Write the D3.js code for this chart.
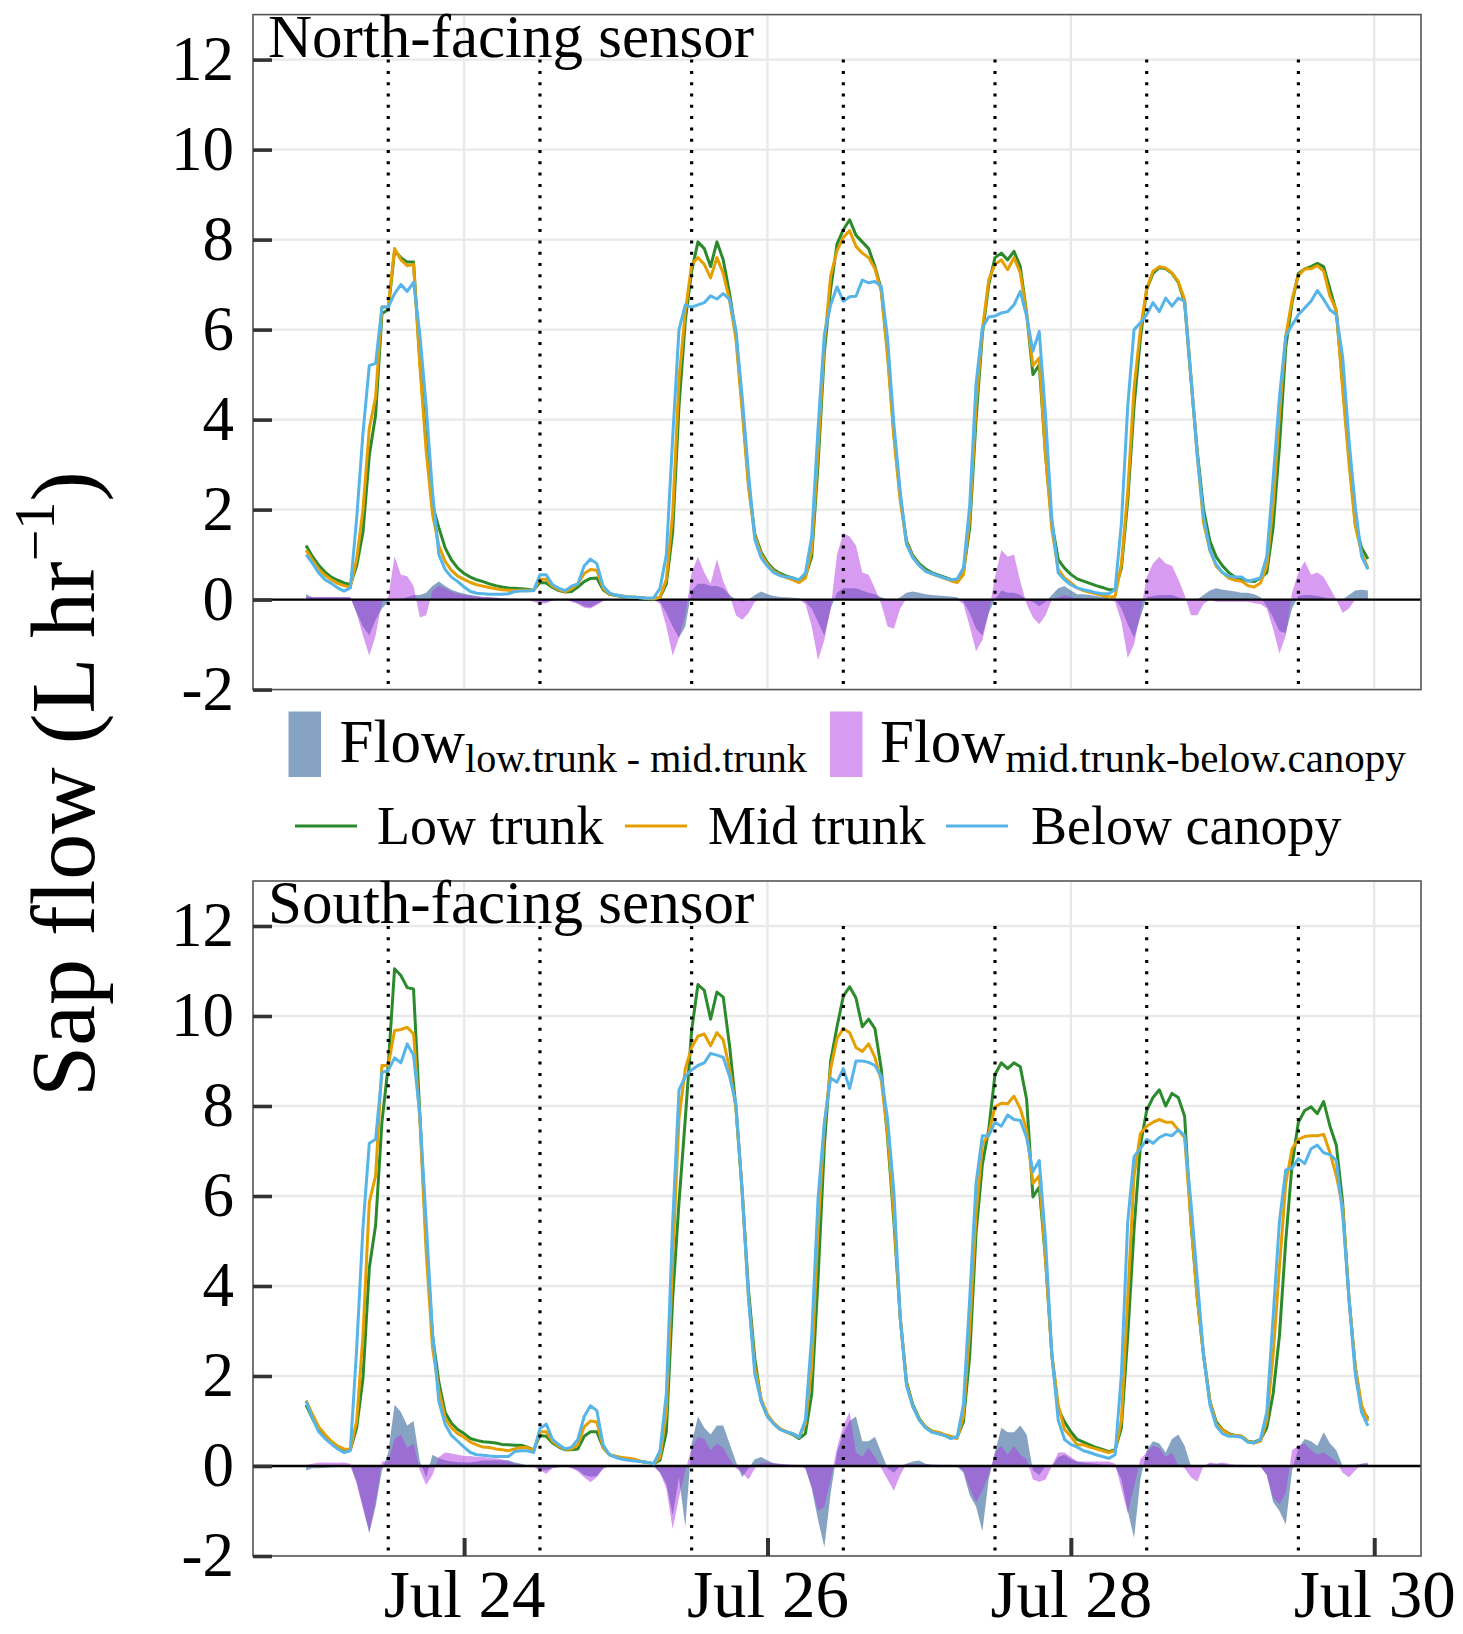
<!DOCTYPE html>
<html><head><meta charset="utf-8">
<script src="https://cdn.jsdelivr.net/npm/d3@7"></script>
<style>
body{margin:0;background:#fff}
svg{display:block}
text{font-family:"Liberation Serif","Times New Roman",Times,serif;fill:#000}
</style>
</head><body>
<svg id="c" width="1463" height="1634"></svg>
<script>
// ---- data (hourly, starting Jul 22 23:00) ----
const startTime = "2019-07-22T23:00:00Z";
const yTicks = [-2, 0, 2, 4, 6, 8, 10, 12];
const yDomain = [-2, 13];
const xTickDates = ["2019-07-24T00:00:00Z","2019-07-26T00:00:00Z","2019-07-28T00:00:00Z","2019-07-30T00:00:00Z"];
const noonLines = ["2019-07-23T12:00:00Z","2019-07-24T12:00:00Z","2019-07-25T12:00:00Z","2019-07-26T12:00:00Z","2019-07-27T12:00:00Z","2019-07-28T12:00:00Z","2019-07-29T12:00:00Z"];
const seriesNames = ["Low trunk","Mid trunk","Below canopy"];
const diffNames = ["low.trunk - mid.trunk","mid.trunk-below.canopy"];
const panelTitles = ["North-facing sensor","South-facing sensor"];

const northLow = [1.2,0.96,0.76,0.61,0.5,0.43,0.37,0.33,0.75,1.5,
3.2,4.1,6.35,6.45,7.75,7.6,7.5,7.5,5.3,3.5,
2.1,1.6,1.15,0.88,0.7,0.58,0.5,0.44,0.4,0.35,
0.31,0.28,0.26,0.25,0.24,0.23,0.21,0.38,0.37,0.27,
0.2,0.17,0.18,0.28,0.4,0.47,0.48,0.22,0.12,0.09,
0.07,0.06,0.05,0.04,0.02,0.01,0.05,0.35,1.5,4.3,
6.2,7.3,7.95,7.8,7.4,7.95,7.55,6.8,5.9,4.3,
2.6,1.45,1.05,0.82,0.67,0.58,0.52,0.48,0.42,0.52,
0.95,3.0,5.5,6.9,7.9,8.22,8.44,8.1,7.95,7.8,
7.4,6.9,5.5,3.7,2.3,1.3,0.98,0.8,0.68,0.6,
0.55,0.5,0.45,0.4,0.6,1.6,4.0,5.9,7.0,7.6,
7.7,7.55,7.74,7.4,6.37,5.0,5.22,3.2,1.7,0.89,
0.7,0.56,0.46,0.41,0.36,0.31,0.27,0.22,0.22,0.7,
2.2,4.3,5.8,6.9,7.25,7.38,7.35,7.25,7.05,6.6,
4.9,3.3,2.0,1.3,0.95,0.75,0.6,0.5,0.45,0.42,
0.4,0.48,0.6,1.6,3.4,5.6,6.6,7.25,7.35,7.4,
7.47,7.4,6.9,6.4,4.8,3.2,1.7,1.15,0.9];

const northMid = [1.1,0.88,0.68,0.54,0.44,0.36,0.31,0.28,0.9,2.0,
3.8,4.5,6.5,6.5,7.8,7.55,7.42,7.45,5.2,3.3,
1.9,1.2,0.85,0.65,0.52,0.45,0.38,0.33,0.3,0.27,
0.24,0.22,0.21,0.2,0.21,0.21,0.2,0.45,0.45,0.3,
0.22,0.18,0.24,0.35,0.58,0.67,0.65,0.25,0.13,0.1,
0.08,0.06,0.05,0.04,0.03,0.02,0.05,0.45,1.9,4.9,
6.4,7.45,7.6,7.45,7.15,7.6,7.25,6.65,5.8,4.2,
2.5,1.4,1.0,0.78,0.63,0.55,0.49,0.44,0.38,0.48,
1.1,3.3,5.7,7.2,7.75,8.05,8.2,7.85,7.7,7.6,
7.35,6.85,5.4,3.6,2.2,1.25,0.95,0.76,0.64,0.57,
0.52,0.47,0.42,0.38,0.55,1.8,4.3,6.0,7.1,7.45,
7.55,7.33,7.6,7.26,6.35,5.2,5.37,3.2,1.55,0.67,
0.48,0.37,0.26,0.2,0.16,0.13,0.09,0.06,0.07,0.8,
2.4,4.7,6.0,6.9,7.3,7.4,7.37,7.26,7.07,6.67,
4.96,3.2,1.7,1.1,0.74,0.6,0.48,0.43,0.41,0.31,
0.28,0.37,0.74,2.1,4.1,5.85,6.67,7.2,7.35,7.35,
7.42,7.3,6.74,6.44,4.67,3.04,1.63,1.04,0.7];

const northBelow = [1.0,0.81,0.59,0.44,0.36,0.26,0.19,0.26,1.8,3.7,
5.2,5.25,6.5,6.5,6.8,7.0,6.85,7.05,5.9,4.3,
2.4,1.0,0.67,0.5,0.4,0.28,0.18,0.14,0.13,0.12,
0.12,0.12,0.13,0.18,0.19,0.19,0.2,0.55,0.55,0.33,
0.25,0.2,0.3,0.35,0.75,0.9,0.8,0.3,0.15,0.1,
0.08,0.06,0.05,0.04,0.03,0.04,0.25,1.0,3.6,6.0,
6.55,6.5,6.55,6.6,6.75,6.68,6.8,6.67,6.0,4.5,
2.8,1.33,0.93,0.74,0.6,0.53,0.5,0.48,0.44,0.59,
1.4,3.8,5.9,6.55,6.95,6.63,6.73,6.74,7.1,7.04,
7.07,6.96,5.8,3.9,2.4,1.22,0.93,0.76,0.63,0.58,
0.53,0.48,0.44,0.46,0.7,2.1,4.8,6.04,6.28,6.3,
6.37,6.4,6.55,6.85,6.3,5.52,5.96,4.07,1.78,0.59,
0.44,0.33,0.26,0.22,0.19,0.15,0.13,0.13,0.22,1.7,
4.3,6.0,6.15,6.33,6.6,6.4,6.7,6.52,6.7,6.63,
4.96,3.2,1.85,1.1,0.78,0.6,0.52,0.5,0.5,0.41,
0.44,0.48,0.96,2.67,4.5,5.85,6.1,6.33,6.48,6.63,
6.87,6.67,6.44,6.33,5.4,3.55,2.07,0.96,0.67];

const northLowMid = [0.12,0.05,0.05,0.05,0.05,0.05,0.05,0.05,-0.3,-0.6,
-0.8,-0.45,-0.2,-0.05,0.0,0.02,0.05,0.1,0.1,0.15,
0.3,0.4,0.3,0.22,0.17,0.13,0.1,0.08,0.06,0.05,
0.04,0.03,0.02,0.01,0.0,0.0,0.0,-0.05,-0.05,-0.02,
0.0,0.0,-0.03,-0.08,-0.15,-0.17,-0.1,-0.02,0.0,0.0,
0.0,0.0,0.0,0.0,0.0,0.0,-0.05,-0.3,-0.6,-0.85,
-0.6,0.2,0.35,0.35,0.3,0.3,0.25,0.1,0.0,-0.05,
0.0,0.1,0.18,0.12,0.08,0.06,0.05,0.04,0.03,-0.05,
-0.2,-0.5,-0.8,-0.2,0.15,0.25,0.25,0.25,0.2,0.15,
0.12,0.05,0.0,-0.03,0.05,0.15,0.18,0.15,0.12,0.1,
0.09,0.08,0.07,0.05,-0.05,-0.3,-0.65,-0.8,-0.3,0.0,
0.2,0.15,0.15,0.1,0.0,-0.05,-0.15,-0.05,0.1,0.25,
0.3,0.2,0.12,0.12,0.1,0.08,0.06,0.05,0.02,-0.2,
-0.55,-0.85,-0.4,0.05,0.08,0.1,0.1,0.1,0.05,0.0,
0.0,0.0,0.1,0.2,0.25,0.22,0.2,0.18,0.15,0.15,
0.12,0.05,-0.15,-0.4,-0.7,-0.75,-0.2,0.08,0.1,0.1,
0.08,0.05,0.02,0.0,0.0,0.1,0.2,0.22,0.2];

const northMidBelow = [0.06,0.06,0.06,0.06,0.06,0.06,0.06,0.05,-0.3,-0.8,
-1.25,-0.8,-0.05,0.05,0.96,0.55,0.52,0.3,-0.4,-0.35,
0.2,0.3,0.25,0.18,0.13,0.1,0.08,0.07,0.06,0.05,
0.04,0.03,0.02,0.01,0.0,0.0,-0.05,-0.1,-0.08,-0.02,
0.0,0.0,-0.05,-0.1,-0.18,-0.2,-0.12,-0.03,0.0,0.0,
0.0,0.0,0.0,0.0,0.0,0.0,-0.1,-0.6,-1.25,-0.85,
-0.35,0.6,0.95,0.6,0.35,0.9,0.4,0.1,-0.35,-0.45,
-0.3,-0.05,0.02,0.02,0.02,0.02,0.01,0.01,0.0,-0.1,
-0.6,-1.35,-0.9,-0.2,1.0,1.48,1.4,1.2,0.6,0.55,
0.25,-0.1,-0.6,-0.65,-0.2,0.03,0.02,0.02,0.02,0.02,
0.01,0.01,0.0,0.0,-0.1,-0.6,-1.15,-0.9,-0.3,0.5,
1.1,0.95,1.0,0.4,-0.1,-0.4,-0.55,-0.35,0.0,0.05,
0.1,0.05,0.03,0.02,0.02,0.01,0.01,0.0,-0.05,-0.5,
-1.3,-1.0,-0.3,0.5,0.8,0.95,0.8,0.75,0.45,0.1,
-0.35,-0.35,-0.1,0.0,-0.05,-0.05,-0.05,-0.05,-0.05,-0.05,
-0.08,-0.1,-0.2,-0.65,-1.2,-0.8,0.15,0.6,0.85,0.55,
0.6,0.5,0.25,0.0,-0.3,-0.2,0.0,0.02,0.03];

const southLow = [1.36,1.06,0.81,0.64,0.51,0.42,0.36,0.36,0.85,1.95,
4.4,5.35,7.64,8.9,11.05,10.9,10.63,10.6,7.8,5.0,
2.9,1.87,1.19,0.95,0.81,0.72,0.61,0.57,0.54,0.53,
0.51,0.48,0.47,0.46,0.46,0.42,0.36,0.68,0.66,0.51,
0.42,0.36,0.36,0.38,0.66,0.76,0.76,0.41,0.25,0.21,
0.17,0.15,0.13,0.1,0.08,0.05,0.13,0.76,3.73,5.86,
7.72,9.68,10.7,10.57,9.93,10.53,10.42,9.34,7.98,6.1,
3.9,2.38,1.44,1.1,0.95,0.82,0.76,0.7,0.61,0.72,
1.6,4.16,7.13,9.0,9.76,10.44,10.65,10.4,9.76,9.93,
9.72,8.83,7.3,5.43,3.3,1.87,1.36,1.06,0.87,0.78,
0.72,0.68,0.64,0.64,0.98,2.46,5.18,6.7,7.47,8.7,
8.96,8.83,8.96,8.87,8.15,5.98,6.2,4.58,2.46,1.27,
0.98,0.76,0.59,0.53,0.47,0.41,0.37,0.32,0.36,0.85,
2.89,5.26,7.13,7.9,8.19,8.36,8.0,8.28,8.19,7.77,
5.43,3.73,2.46,1.44,0.98,0.81,0.72,0.68,0.66,0.55,
0.53,0.59,0.85,1.6,2.89,5.0,6.7,7.64,7.9,7.98,
7.83,8.1,7.55,7.13,5.86,3.73,2.2,1.27,1.06];

const southMid = [1.46,1.15,0.87,0.7,0.55,0.44,0.38,0.37,1.0,2.9,
5.86,6.45,8.9,8.9,9.68,9.7,9.75,9.6,7.7,4.75,
2.63,1.7,1.06,0.85,0.72,0.64,0.53,0.47,0.42,0.41,
0.38,0.36,0.34,0.38,0.41,0.41,0.34,0.76,0.76,0.55,
0.44,0.37,0.38,0.47,0.87,1.0,0.98,0.41,0.25,0.21,
0.19,0.17,0.15,0.1,0.08,0.05,0.19,1.19,4.58,7.72,
8.83,9.3,9.55,9.6,9.34,9.63,9.47,8.83,7.98,6.1,
3.73,2.2,1.49,1.15,0.95,0.83,0.76,0.72,0.64,0.93,
2.2,5.26,7.55,8.83,9.5,9.72,9.63,9.3,9.21,9.38,
9.08,8.57,7.39,5.6,3.3,1.83,1.32,1.04,0.87,0.78,
0.75,0.7,0.66,0.61,1.1,3.06,5.6,7.13,7.39,7.98,
8.06,8.05,8.22,7.94,7.47,6.28,6.45,4.58,2.46,1.36,
0.81,0.66,0.47,0.47,0.42,0.38,0.34,0.3,0.34,1.02,
3.73,6.45,7.39,7.55,7.64,7.7,7.64,7.64,7.47,7.3,
5.43,3.73,2.46,1.44,0.93,0.81,0.7,0.68,0.66,0.55,
0.51,0.55,1.02,2.46,4.41,6.28,7.05,7.26,7.32,7.34,
7.34,7.37,6.96,6.45,5.77,3.73,2.2,1.36,1.0];

const southBelow = [1.44,1.06,0.76,0.61,0.49,0.38,0.3,0.34,2.6,5.3,
7.17,7.26,8.74,8.79,9.07,8.96,9.38,9.13,7.8,5.43,
2.97,1.44,0.93,0.68,0.55,0.42,0.3,0.25,0.24,0.22,
0.21,0.21,0.21,0.32,0.34,0.34,0.3,0.83,0.93,0.59,
0.47,0.38,0.42,0.59,1.1,1.34,1.23,0.47,0.25,0.19,
0.15,0.13,0.11,0.1,0.08,0.05,0.34,1.6,5.4,8.36,
8.66,8.8,8.9,8.96,9.17,9.13,9.08,8.66,8.06,6.1,
3.73,2.04,1.44,1.1,0.93,0.81,0.76,0.72,0.64,1.02,
2.9,5.94,7.64,8.62,8.53,8.83,8.39,9.0,9.0,8.97,
8.9,8.66,7.72,6.1,3.3,1.78,1.32,1.02,0.85,0.75,
0.72,0.68,0.61,0.64,1.36,3.73,6.28,7.34,7.34,7.64,
7.55,7.8,7.7,7.68,7.3,6.54,6.79,5.0,2.46,1.02,
0.59,0.48,0.42,0.34,0.3,0.25,0.21,0.17,0.25,2.04,
5.43,6.88,7.05,7.26,7.17,7.3,7.37,7.34,7.47,7.34,
5.86,4.16,2.46,1.36,0.89,0.72,0.66,0.66,0.64,0.53,
0.51,0.59,1.19,3.31,5.43,6.58,6.62,6.83,6.72,7.05,
7.13,6.96,6.92,6.79,5.6,3.73,2.04,1.19,0.89];

const southLowMid = [-0.1,-0.05,-0.05,-0.04,-0.03,-0.02,0.0,0.0,-0.35,-0.9,
-1.5,-0.9,-0.1,0.3,1.36,1.2,0.9,1.0,0.1,-0.25,
0.25,0.17,0.13,0.1,0.09,0.08,0.08,0.1,0.12,0.12,
0.13,0.12,0.13,0.08,0.05,0.01,0.02,-0.08,-0.1,-0.04,
-0.03,0.0,-0.04,-0.09,-0.2,-0.24,-0.22,-0.05,0.0,0.0,
0.0,0.0,0.0,0.0,0.0,0.0,-0.15,-0.4,-1.1,-0.25,
-1.35,0.5,1.1,0.85,0.7,0.9,0.9,0.5,0.1,-0.25,
-0.05,0.15,0.2,0.12,0.06,0.04,0.02,0.02,0.02,-0.05,
-0.5,-1.2,-1.8,-0.6,0.3,0.72,1.0,1.1,0.55,0.55,
0.65,0.3,-0.05,-0.15,0.0,0.05,0.1,0.12,0.05,0.03,
0.02,0.02,0.0,0.0,-0.15,-0.65,-0.9,-1.45,-0.3,0.3,
0.85,0.75,0.75,0.9,0.7,-0.1,-0.2,0.0,0.0,0.2,
0.25,0.15,0.1,0.08,0.06,0.05,0.03,0.03,0.0,-0.3,
-1.0,-1.6,-0.3,0.35,0.55,0.5,0.3,0.6,0.7,0.45,
0.0,0.0,0.0,0.05,0.05,0.05,0.02,0.02,0.02,0.02,
0.0,0.0,-0.2,-0.8,-1.0,-1.3,-0.1,0.4,0.6,0.55,
0.45,0.75,0.5,0.35,0.0,0.0,0.02,0.05,0.05];

const southMidBelow = [0.02,0.05,0.08,0.08,0.08,0.07,0.08,0.05,-0.4,-0.95,
-1.45,-0.8,0.1,0.1,0.6,0.7,0.4,0.5,-0.1,-0.42,
-0.2,0.2,0.3,0.28,0.25,0.22,0.22,0.2,0.2,0.18,
0.17,0.15,0.1,0.05,0.02,0.0,-0.02,-0.1,-0.17,-0.05,
-0.02,0.0,-0.05,-0.12,-0.25,-0.36,-0.25,-0.06,0.0,0.02,
0.02,0.02,0.02,0.02,0.01,0.0,-0.15,-0.5,-1.4,-0.7,
-0.1,0.4,0.65,0.6,0.35,0.5,0.4,0.15,-0.05,-0.15,
-0.3,-0.05,0.08,0.07,0.06,0.05,0.04,0.03,0.02,-0.05,
-0.45,-1.0,-0.9,-0.3,0.4,0.9,1.2,0.3,0.2,0.4,
0.2,-0.05,-0.3,-0.55,-0.2,0.05,0.04,0.04,0.03,0.03,
0.03,0.02,0.03,-0.02,-0.1,-0.5,-0.8,-0.55,-0.2,0.3,
0.45,0.25,0.45,0.25,0.15,-0.3,-0.35,-0.3,0.0,0.3,
0.3,0.2,0.1,0.1,0.1,0.1,0.1,0.1,0.05,-0.5,
-1.05,-0.45,0.15,0.3,0.45,0.4,0.2,0.3,0.0,-0.05,
-0.25,-0.35,0.0,0.08,0.05,0.08,0.05,0.03,0.03,0.02,
0.0,-0.02,-0.2,-0.7,-0.85,-0.6,0.35,0.45,0.5,0.35,
0.25,0.3,0.2,0.1,-0.15,-0.25,-0.1,0.05,0.08];

// ---- styles ----
const lineColors = ["#2b8a2b", "#E69F00", "#56B4E9"];
const diffColors = ["#0f4787", "#b03ae6"];
const diffOpacity = 0.5;
const FONT = '"Liberation Serif","Times New Roman",Times,serif';

// ---- layout ----
const svg = d3.select("#c");
const X0 = 253, X1 = 1421;
const t0 = Date.parse(startTime);
const times = northLow.map((_, i) => new Date(t0 + i * 3600000));
const span = times[times.length - 1] - times[0];
const x = d3.scaleUtc()
  .domain([new Date(+times[0] - 0.05 * span), new Date(+times[times.length - 1] + 0.05 * span)])
  .range([X0, X1]);

const panels = [
  {title: panelTitles[0], top: 14.6, bottom: 689.6, lines: [northLow, northMid, northBelow], diffs: [northLowMid, northMidBelow], axis: false, titleY: 57},
  {title: panelTitles[1], top: 881, bottom: 1556, lines: [southLow, southMid, southBelow], diffs: [southLowMid, southMidBelow], axis: true, titleY: 923}
];

const defs = svg.append("defs");

panels.forEach((p, k) => {
  const y = d3.scaleLinear().domain(yDomain).range([p.bottom, p.top]);
  defs.append("clipPath").attr("id", "clip" + k)
    .append("rect").attr("x", X0).attr("y", p.top).attr("width", X1 - X0).attr("height", p.bottom - p.top);
  const g = svg.append("g");
  const plot = g.append("g").attr("clip-path", `url(#clip${k})`);

  // grid
  plot.selectAll(".hg").data(yTicks).join("line")
    .attr("x1", X0).attr("x2", X1).attr("y1", d => y(d)).attr("y2", d => y(d))
    .attr("stroke", "#e9e9e9").attr("stroke-width", 2.4);
  plot.selectAll(".vg").data(xTickDates.map(d => new Date(d))).join("line")
    .attr("x1", d => x(d)).attr("x2", d => x(d)).attr("y1", p.top).attr("y2", p.bottom)
    .attr("stroke", "#e9e9e9").attr("stroke-width", 2.4);

  // difference areas
  p.diffs.forEach((arr, j) => {
    const area = d3.area().x((d, i) => x(times[i])).y0(y(0)).y1(d => y(d));
    plot.append("path").datum(arr).attr("d", area)
      .attr("fill", diffColors[j]).attr("fill-opacity", diffOpacity).attr("stroke", "none");
  });

  // zero line
  plot.append("line").attr("x1", X0).attr("x2", X1).attr("y1", y(0)).attr("y2", y(0))
    .attr("stroke", "#000").attr("stroke-width", 2.4);

  // series lines
  p.lines.forEach((arr, j) => {
    const line = d3.line().x((d, i) => x(times[i])).y(d => y(d));
    plot.append("path").datum(arr).attr("d", line)
      .attr("fill", "none").attr("stroke", lineColors[j]).attr("stroke-width", 3)
      .attr("stroke-linejoin", "round");
  });

  // noon dotted lines
  plot.selectAll(".noon").data(noonLines.map(d => new Date(d))).join("line")
    .attr("x1", d => x(d)).attr("x2", d => x(d)).attr("y1", y(12)).attr("y2", y(-2))
    .attr("stroke", "#000").attr("stroke-width", 3.2).attr("stroke-dasharray", "3 8.3");

  // border
  g.append("rect").attr("x", X0).attr("y", p.top).attr("width", X1 - X0).attr("height", p.bottom - p.top)
    .attr("fill", "none").attr("stroke", "#555").attr("stroke-width", 1.6);

  // y axis (ticks inward)
  const ya = g.append("g").attr("transform", `translate(${X0},0)`)
    .call(d3.axisLeft(y).tickValues(yTicks).tickSize(-19).tickPadding(19).tickFormat(d3.format("d")));
  ya.select(".domain").remove();
  ya.selectAll(".tick line").attr("stroke", "#333").attr("stroke-width", 3.6);
  ya.selectAll(".tick text").attr("font-size", 63).attr("font-family", FONT)
    .attr("fill", "#000").attr("dy", "0.31em").text(d => String(d).replace("\u2212", "-"));

  if (p.axis) {
    const xa = g.append("g").attr("transform", `translate(0,${p.bottom})`)
      .call(d3.axisBottom(x).tickValues(xTickDates.map(d => new Date(d))).tickSize(-18).tickPadding(13)
        .tickFormat(d3.utcFormat("%b %d")));
    xa.select(".domain").remove();
    xa.selectAll(".tick line").attr("stroke", "#333").attr("stroke-width", 4);
    xa.selectAll(".tick text").attr("font-size", 67).attr("font-family", FONT)
      .attr("fill", "#000");
  }

  // panel title
  g.append("text").attr("x", 268).attr("y", p.titleY).attr("font-size", 61).text(p.title);
});

// ---- legend ----
const lg = svg.append("g");
const swX = [288.5, 830];
const flowX = [339.6, 880];
const subSize = [40, 41];
diffNames.forEach((nm, j) => {
  lg.append("rect").attr("x", swX[j]).attr("y", 711.5).attr("width", 32.5).attr("height", 65.5)
    .attr("fill", diffColors[j]).attr("fill-opacity", diffOpacity);
  const t = lg.append("text").attr("x", flowX[j]).attr("y", 761.5).attr("font-size", 61);
  t.append("tspan").text("Flow");
  t.append("tspan").attr("font-size", subSize[j]).attr("dy", 10).text(nm);
});
const keyX = [295, 625, 946];
const keyTextX = [377, 708, 1031];
seriesNames.forEach((nm, j) => {
  lg.append("line").attr("x1", keyX[j]).attr("x2", keyX[j] + 62).attr("y1", 826).attr("y2", 826)
    .attr("stroke", lineColors[j]).attr("stroke-width", 3);
  lg.append("text").attr("x", keyTextX[j]).attr("y", 844).attr("font-size", 54).text(nm);
});

// ---- y axis title ----
const yt = svg.append("text").attr("transform", "translate(94,784) rotate(-90)")
  .attr("text-anchor", "middle").attr("font-size", 92);
yt.append("tspan").text("Sap flow (L hr");
yt.append("tspan").attr("font-size", 56).attr("dy", -40).text("\u22121");
yt.append("tspan").attr("dy", 40).text(")");
</script>
</body></html>
